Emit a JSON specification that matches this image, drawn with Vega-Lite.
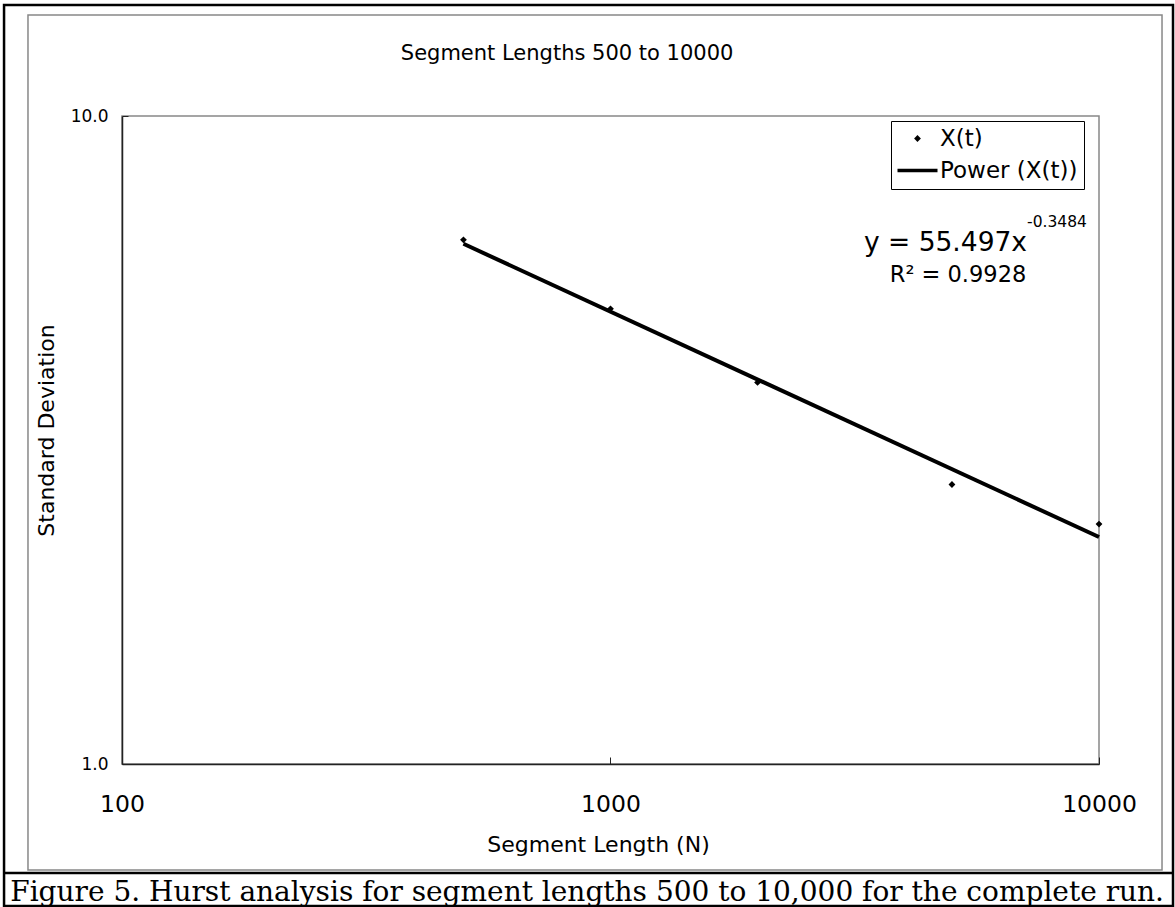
{
  "$schema": "https://vega.github.io/schema/vega-lite/v6.json",
  "autosize": "none",
  "width": 977,
  "height": 648,
  "padding": {"left": 122, "top": 116, "right": 76, "bottom": 143},
  "background": "white",
  "config": {
    "font": "DejaVu Sans",
    "view": {"stroke": "#888888", "strokeWidth": 1.5}
  },
  "datasets": {
    "series": [
      {"N": 500, "sd": 6.44, "series": "X(t)"},
      {"N": 1000, "sd": 5.04, "series": "X(t)"},
      {"N": 2000, "sd": 3.88, "series": "X(t)"},
      {"N": 5000, "sd": 2.70, "series": "X(t)"},
      {"N": 10000, "sd": 2.346, "series": "X(t)"}
    ],
    "trend": [
      {"N": 500, "sd": 6.35, "series": "Power (X(t))"},
      {"N": 10000, "sd": 2.24, "series": "Power (X(t))"}
    ]
  },
  "layer": [
    {
      "data": {"values": [{"part": "chart frame"}]},
      "mark": {"type": "rect", "filled": false, "stroke": "#888888", "strokeWidth": 1.5},
      "encoding": {
        "x": {"datum": 64.2, "type": "quantitative", "scale": {"type": "log", "domain": [100, 10000], "nice": false}},
        "x2": {"datum": 13459},
        "y": {"datum": 14.32, "type": "quantitative", "scale": {"type": "log", "domain": [1, 10], "nice": false}},
        "y2": {"datum": 0.686}
      }
    },
    {
      "data": {"values": [{"part": "outer frame"}]},
      "mark": {"type": "rect", "filled": false, "stroke": "black", "strokeWidth": 2.5},
      "encoding": {
        "x": {"datum": 57.35, "type": "quantitative"},
        "x2": {"datum": 14174},
        "y": {"datum": 14.84, "type": "quantitative"},
        "y2": {"datum": 0.604}
      }
    },
    {
      "data": {"values": [{"part": "separator"}]},
      "mark": {"type": "rule", "stroke": "black", "strokeWidth": 2.5},
      "encoding": {
        "x": {"datum": 57.35, "type": "quantitative"},
        "x2": {"datum": 14174},
        "y": {"datum": 0.679, "type": "quantitative"}
      }
    },
    {
      "data": {"name": "trend"},
      "mark": {"type": "line", "color": "black", "strokeWidth": 4},
      "encoding": {
        "x": {"field": "N", "type": "quantitative"},
        "y": {"field": "sd", "type": "quantitative"}
      }
    },
    {
      "data": {"name": "series"},
      "mark": {"type": "point", "filled": true, "color": "black", "size": 64, "opacity": 1},
      "encoding": {
        "x": {
          "field": "N",
          "type": "quantitative",
          "scale": {"type": "log", "domain": [100, 10000], "nice": false},
          "axis": {
            "title": "Segment Length (N)",
            "values": [100, 1000, 10000],
            "format": "d",
            "grid": false,
            "labelFontSize": 23.5,
            "labelColor": "black",
            "labelBaseline": "alphabetic",
            "labelPadding": 54,
            "labelFlush": false,
            "tickSize": -7,
            "tickColor": "#222222",
            "domainColor": "#222222",
            "domainWidth": 1.5,
            "titleFontSize": 22,
            "titleFontWeight": "normal",
            "titleColor": "black",
            "titleBaseline": "alphabetic",
            "titleX": 476,
            "titleY": 87
          }
        },
        "y": {
          "field": "sd",
          "type": "quantitative",
          "scale": {"type": "log", "domain": [1, 10], "nice": false},
          "axis": {
            "title": "Standard Deviation",
            "values": [1, 10],
            "format": ".1f",
            "grid": false,
            "labelFontSize": 17,
            "labelColor": "black",
            "labelPadding": 20,
            "labelFlush": false,
            "tickSize": -6,
            "tickColor": "#222222",
            "domainColor": "#222222",
            "domainWidth": 1.5,
            "titleFontSize": 22,
            "titleFontWeight": "normal",
            "titleColor": "black",
            "titleBaseline": "middle",
            "titleAlign": "center",
            "titleAngle": -90,
            "titleX": -76,
            "titleY": 314
          }
        },
        "shape": {
          "field": "series",
          "type": "nominal",
          "scale": {
            "domain": ["X(t)", "Power (X(t))"],
            "range": ["M0,-0.85L0.85,0L0,0.85L-0.85,0Z", "M-5,-0.45H5V0.45H-5Z"]
          },
          "legend": {
            "title": null,
            "orient": "none",
            "legendX": 769,
            "legendY": 5,
            "strokeColor": "black",
            "fillColor": "white",
            "padding": 6,
            "labelFont": "DejaVu Sans",
            "labelFontSize": 23,
            "labelColor": "black",
            "symbolSize": 64,
            "symbolFillColor": "black",
            "symbolOffset": 9,
            "labelOffset": 11,
            "rowPadding": 8
          }
        }
      }
    },
    {
      "data": {"values": [{"label": "Segment Lengths 500 to 10000"}]},
      "mark": {"type": "text", "align": "center", "baseline": "alphabetic", "fontSize": 21, "color": "black"},
      "encoding": {
        "x": {"datum": 815, "type": "quantitative"},
        "y": {"datum": 12.2, "type": "quantitative"},
        "text": {"field": "label"}
      }
    },
    {
      "data": {"values": [{"label": "y = 55.497x"}]},
      "mark": {"type": "text", "align": "right", "baseline": "alphabetic", "fontSize": 26.5, "color": "black"},
      "encoding": {
        "x": {"datum": 7124, "type": "quantitative"},
        "y": {"datum": 6.19, "type": "quantitative"},
        "text": {"field": "label"}
      }
    },
    {
      "data": {"values": [{"label": "-0.3484"}]},
      "mark": {"type": "text", "align": "left", "baseline": "alphabetic", "fontSize": 15.5, "color": "black"},
      "encoding": {
        "x": {"datum": 7124, "type": "quantitative"},
        "y": {"datum": 6.75, "type": "quantitative"},
        "text": {"field": "label"}
      }
    },
    {
      "data": {"values": [{"label": "R² = 0.9928"}]},
      "mark": {"type": "text", "align": "center", "baseline": "alphabetic", "fontSize": 22.5, "color": "black"},
      "encoding": {
        "x": {"datum": 5145, "type": "quantitative"},
        "y": {"datum": 5.55, "type": "quantitative"},
        "text": {"field": "label"}
      }
    },
    {
      "data": {"values": [{"label": "Figure 5.  Hurst analysis for segment lengths 500 to 10,000 for the complete run."}]},
      "mark": {"type": "text", "align": "center", "baseline": "alphabetic", "font": "DejaVu Serif", "fontSize": 28, "color": "black"},
      "encoding": {
        "x": {"datum": 895.6, "type": "quantitative"},
        "y": {"datum": 0.6145, "type": "quantitative"},
        "text": {"field": "label"}
      }
    }
  ]
}
